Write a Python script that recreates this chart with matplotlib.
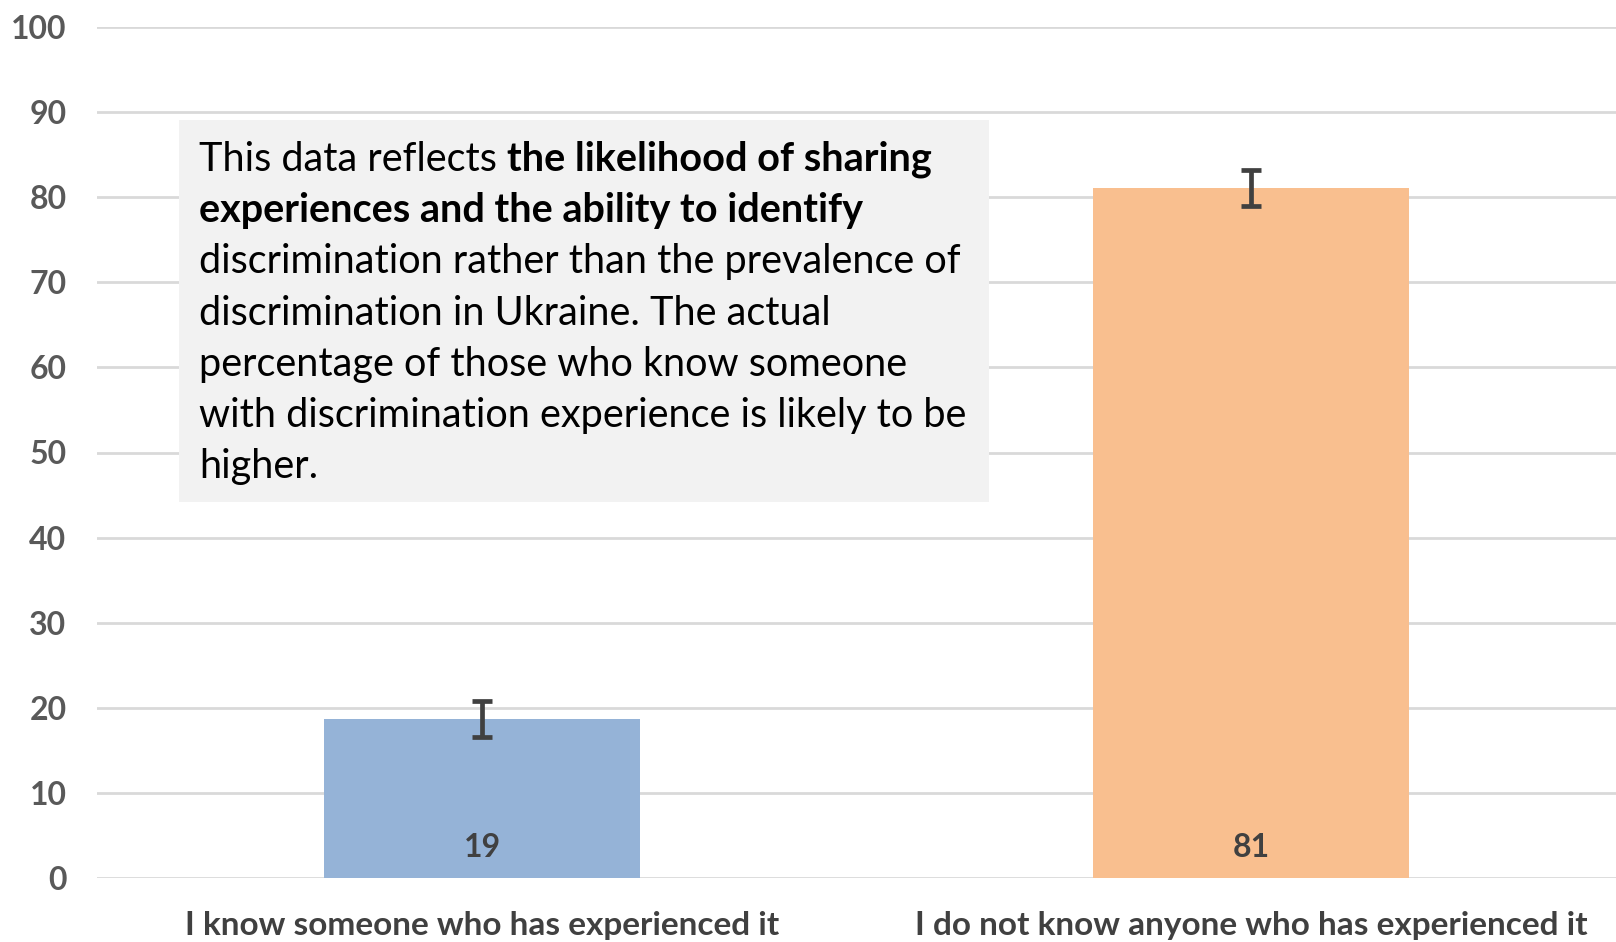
import matplotlib
matplotlib.use("Agg")
import matplotlib.pyplot as plt
from matplotlib.patches import Rectangle

# ---- data ----
categories = ["I know someone who has experienced it",
              "I do not know anyone who has experienced it"]
values = [18.7, 81.1]
errors = [2.1, 2.1]
bar_colors = ["#95B3D7", "#F9BF8F"]
y_ticks = [0, 10, 20, 30, 40, 50, 60, 70, 80, 90, 100]

note_lines = [
    [("This data reflects ", "normal"), ("the likelihood of sharing", "bold")],
    [("experiences and the ability to identify", "bold")],
    [("discrimination rather than the prevalence of", "normal")],
    [("discrimination in Ukraine. The actual", "normal")],
    [("percentage of those who know someone", "normal")],
    [("with discrimination experience is likely to be", "normal")],
    [("higher.", "normal")],
]

W, H = 1616, 942
plt.rcParams['font.family'] = ['Lato', 'DejaVu Sans']
fig = plt.figure(figsize=(W / 100, H / 100), dpi=100)
fig.patch.set_facecolor("white")

ax_left, ax_right = 97, 1616
ax_bottom, ax_top = 878, 27
ax = fig.add_axes([ax_left / W, 1 - ax_bottom / H,
                   (ax_right - ax_left) / W, (ax_bottom - ax_top) / H])

x = list(range(len(categories)))
ax.bar(x, values, width=0.41, color=bar_colors, zorder=2)
ax.errorbar(x, values, yerr=errors, fmt='none', ecolor="#404040",
            elinewidth=3.4, capsize=7.5, capthick=3.4, zorder=3)

for xi, v in zip(x, values):
    ax.annotate(f"{round(v)}", xy=(xi, 0), xytext=(0, 22),
                textcoords="offset points", ha="center", va="center",
                fontsize=23, fontweight="bold", color="#404040", zorder=4)

ax.set_ylim(0, 100)
ax.set_xlim(-0.5007, 1.4746)
ax.set_yticks(y_ticks)
ax.set_yticklabels([str(t) for t in y_ticks], fontsize=23,
                   fontweight="bold", color="#595959")
ax.set_xticks(x)
ax.set_xticklabels(categories, fontsize=24, fontweight="bold", color="#404040")
ax.tick_params(axis="y", length=0, pad=22)
ax.tick_params(axis="x", length=0, pad=24)
ax.grid(axis="y", color="#D9D9D9", linewidth=2, zorder=0)
ax.set_axisbelow(True)
for s in ax.spines.values():
    s.set_visible(False)

# ---- note box ----
bx0, by0, bx1, by1 = 179, 120, 989, 502
fig.patches.append(Rectangle((bx0 / W, 1 - by1 / H), (bx1 - bx0) / W,
                             (by1 - by0) / H, transform=fig.transFigure,
                             facecolor="#F2F2F2", edgecolor="none", zorder=5))

text_x = 199
base0 = 171
step = 51.2
fs = 28.5
fig.canvas.draw()
renderer = fig.canvas.get_renderer()
for i, parts in enumerate(note_lines):
    yb = 1 - (base0 + i * step) / H
    xpos = text_x
    for txt, wt in parts:
        t = fig.text(xpos / W, yb, txt, fontsize=fs, fontweight=wt,
                     color="black", ha="left", va="baseline", zorder=6)
        ext = t.get_window_extent(renderer=renderer)
        xpos = ext.x1

fig.savefig("out.png", dpi=100)
